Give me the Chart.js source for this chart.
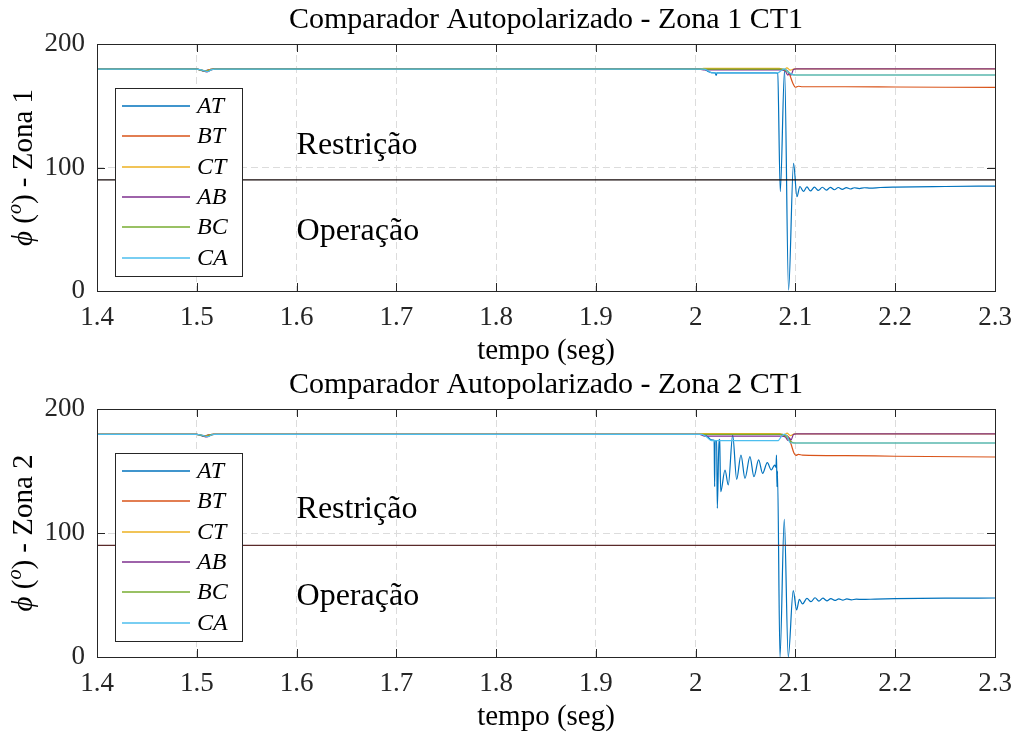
<!DOCTYPE html>
<html>
<head>
<meta charset="utf-8">
<script src="https://cdn.jsdelivr.net/npm/chart.js@4.4.1/dist/chart.umd.min.js"></script>
<style>
  html, body { margin: 0; padding: 0; background: #ffffff; }
  #wrap { position: relative; width: 1017px; height: 734px; }
  canvas { position: absolute; left: 0; }
  #zona1 { top: 0; }
  #zona2 { top: 367px; }
</style>
</head>
<body>
<div id="wrap">
  <canvas id="zona1" width="1017" height="367" style="width:1017px;height:367px"></canvas>
  <canvas id="zona2" width="1017" height="367" style="width:1017px;height:367px"></canvas>
</div>
<script>
// ---- data: [time (s), angle (deg)] ----
const seriesNames = ['AT', 'BT', 'CT', 'AB', 'BC', 'CA'];

const zona1AT = [
  [1.400,179.6],[1.500,179.6],[1.503,179.0],[1.507,178.0],[1.511,178.9],[1.515,179.6],
  [2.008,179.6],[2.012,178.0],[2.016,176.8],[2.0195,176.6],[2.0205,174.6],[2.0215,176.6],
  [2.050,176.7],[2.080,176.7],[2.0822,176.2],[2.0848,80.4],[2.0891,179.0],[2.0931,0.8],
  [2.0981,103.4],[2.1015,76.4],[2.1045,84.6],[2.108,80.6],[2.1115,84.3],[2.115,81.0],
  [2.119,84.1],[2.123,81.4],[2.127,84.0],[2.131,81.7],[2.135,83.9],[2.139,82.0],
  [2.143,83.8],[2.147,82.3],[2.151,83.7],[2.155,82.6],[2.159,83.6],[2.164,82.9],
  [2.169,83.6],[2.175,83.3],[2.185,83.8],[2.200,84.1],[2.250,84.6],[2.300,85.0]
];
const zona1BT = [
  [1.400,179.6],[1.500,179.6],[1.504,179.0],[1.508,178.3],[1.512,179.1],[1.516,179.6],
  [2.085,179.6],[2.089,179.2],[2.0925,178.0],[2.095,173.5],[2.0975,168.0],[2.100,165.0],
  [2.103,165.8],[2.107,165.4],[2.150,165.4],[2.200,165.2],[2.300,164.8]
];
const zona1CT = [
  [1.400,179.6],[1.500,179.6],[1.504,178.8],[1.509,177.9],[1.513,179.0],[1.516,179.6],
  [2.003,179.6],[2.008,180.2],[2.084,180.2],[2.088,178.6],[2.0915,180.6],[2.095,178.8],
  [2.099,179.9],[2.300,179.9]
];
const zona1AB = [
  [1.400,179.6],[1.500,179.6],[1.505,178.6],[1.510,177.4],[1.514,178.9],[1.517,179.6],
  [2.004,179.6],[2.009,179.0],[2.086,179.0],[2.090,177.8],[2.0925,174.8],[2.094,176.6],
  [2.0955,174.6],[2.098,179.4],[2.101,179.9],[2.300,179.9]
];
const zona1BC = [
  [1.400,179.6],[1.500,179.6],[1.505,178.8],[1.510,177.9],[1.514,179.1],[1.517,179.6],
  [2.087,179.6],[2.0905,178.4],[2.094,176.4],[2.097,175.2],[2.100,174.9],[2.300,174.9]
];
const zona1CA = [
  [1.400,179.6],[1.500,179.6],[1.506,178.7],[1.511,177.7],[1.515,179.2],[1.518,179.6],
  [2.008,179.6],[2.012,178.6],[2.016,176.6],[2.082,176.6],[2.086,178.6],[2.089,179.8],
  [2.092,178.0],[2.096,175.6],[2.100,174.9],[2.300,174.9]
];

const zona2AT = [
  [1.400,179.6],[1.500,179.6],[1.503,179.0],[1.507,178.0],[1.511,178.9],[1.515,179.6],
  [2.008,179.6],[2.012,177.6],[2.016,175.2],[2.0185,174.8],[2.0190,137.4],[2.0195,174.6],
  [2.0210,174.4],[2.0217,119.9],[2.0234,175.5],[2.0240,175.0],[2.0251,133.3],[2.0294,150.8],
  [2.0327,138.7],[2.0371,179.0],[2.0411,143.3],[2.0454,162.9],[2.0494,144.1],[2.0544,161.6],
  [2.0584,145.4],[2.0631,158.9],[2.0671,148.1],[2.0718,156.7],[2.0758,150.8],[2.0791,154.8],
  [2.0805,153.0],[2.0810,162.9],[2.0815,137.4],[2.0820,150.0],[2.0845,0.0],[2.0888,111.0],
  [2.0928,0.0],[2.0978,53.5],[2.1012,37.9],[2.1039,46.5],[2.1072,42.8],[2.1115,47.3],
  [2.1156,44.6],[2.1196,47.8],[2.1235,45.0],[2.1275,47.4],[2.1315,45.3],[2.1355,47.1],
  [2.1395,45.6],[2.1435,46.9],[2.1475,45.9],[2.1515,46.8],[2.156,46.1],[2.161,46.7],
  [2.167,46.4],[2.180,46.7],[2.200,47.0],[2.250,47.4],[2.300,47.6]
];
const zona2BT = [
  [1.400,179.6],[1.500,179.6],[1.504,179.0],[1.508,178.3],[1.512,179.1],[1.516,179.6],
  [2.086,179.6],[2.090,179.0],[2.093,177.5],[2.0955,172.0],[2.0985,164.5],[2.1005,162.6],
  [2.103,163.4],[2.107,162.8],[2.150,162.4],[2.200,161.9],[2.300,161.3]
];
const zona2CT = [
  [1.400,179.6],[1.500,179.6],[1.504,178.8],[1.509,177.9],[1.513,179.0],[1.516,179.6],
  [2.003,179.6],[2.008,180.2],[2.084,180.2],[2.088,178.4],[2.0915,180.6],[2.095,178.6],
  [2.099,179.9],[2.300,179.9]
];
const zona2AB = [
  [1.400,179.6],[1.500,179.6],[1.505,178.6],[1.510,177.4],[1.514,178.9],[1.517,179.6],
  [2.004,179.6],[2.009,178.2],[2.086,178.2],[2.090,177.4],[2.0925,174.6],[2.094,176.8],
  [2.0955,174.8],[2.098,179.4],[2.101,179.9],[2.300,179.9]
];
const zona2BC = [
  [1.400,179.6],[1.500,179.6],[1.505,178.8],[1.510,177.9],[1.514,179.1],[1.517,179.6],
  [2.087,179.6],[2.0905,178.0],[2.094,174.8],[2.097,173.0],[2.100,172.6],[2.300,172.6]
];
const zona2CA = [
  [1.400,179.6],[1.500,179.6],[1.506,178.7],[1.511,177.7],[1.515,179.2],[1.518,179.6],
  [2.006,179.6],[2.011,177.4],[2.016,174.5],[2.0826,174.5],[2.086,178.0],[2.089,179.8],
  [2.092,177.6],[2.0946,172.8],[2.100,172.6],[2.300,172.6]
];

// operating threshold of the comparator (deg)
const thresholdDeg = 90;
const thresholdTimes = [1.4, 2.3];

// axes
const xTickValues = [1.4, 1.5, 1.6, 1.7, 1.8, 1.9, 2.0, 2.1, 2.2, 2.3];
const xTickLabels = ['1.4', '1.5', '1.6', '1.7', '1.8', '1.9', '2', '2.1', '2.2', '2.3'];
const yTickValues = [0, 100, 200];
const yTickLabels = ['0', '100', '200'];

// ---- styling ----
const seriesColors = ['#0072BD', '#D95319', '#EDB120', '#7E2F8E', '#77AC30', '#4DBEEE'];
const SERIF = '"Liberation Serif", "Times New Roman", "DejaVu Serif", serif';
const AXIS_GRAY = '#262626';

function drawYTitle(ctx, cx, cy, zonaText) {
  const parts = [
    { t: '\u03D5', font: 'italic 29px ' + SERIF, dy: 0 },
    { t: ' (', font: '29px ' + SERIF, dy: 0 },
    { t: 'o', font: 'italic 20px ' + SERIF, dy: -11 },
    { t: ')', font: '29px ' + SERIF, dy: 0 },
    { t: ' - ' + zonaText, font: '29px ' + SERIF, dy: 0 }
  ];
  ctx.save();
  ctx.translate(cx, cy);
  ctx.rotate(-Math.PI / 2);
  ctx.textBaseline = 'alphabetic';
  ctx.textAlign = 'left';
  ctx.fillStyle = '#000';
  let total = 0;
  parts.forEach(p => { ctx.font = p.font; p.w = ctx.measureText(p.t).width; total += p.w; });
  let xx = -total / 2;
  parts.forEach(p => { ctx.font = p.font; ctx.fillText(p.t, xx, 10 + p.dy); xx += p.w; });
  ctx.restore();
}

function decorPlugin(opts) {
  return {
    id: 'decor',
    afterDatasetsDraw(chart) {
      const { ctx, chartArea: a, scales: { x, y } } = chart;
      ctx.save();

      // inward tick marks and axes box
      ctx.strokeStyle = AXIS_GRAY;
      ctx.lineWidth = 1;
      ctx.beginPath();
      xTickValues.forEach(v => {
        const px = Math.round(x.getPixelForValue(v)) + 0.5;
        ctx.moveTo(px, a.bottom); ctx.lineTo(px, a.bottom - 8);
        ctx.moveTo(px, a.top); ctx.lineTo(px, a.top + 8);
      });
      yTickValues.forEach(v => {
        const py = Math.round(y.getPixelForValue(v)) + 0.5;
        ctx.moveTo(a.left, py); ctx.lineTo(a.left + 8, py);
        ctx.moveTo(a.right, py); ctx.lineTo(a.right - 8, py);
      });
      ctx.stroke();
      ctx.strokeRect(Math.round(a.left) + 0.5, Math.round(a.top) + 0.5,
                     Math.round(a.right - a.left), Math.round(a.bottom - a.top));

      // region labels
      ctx.fillStyle = '#000';
      ctx.font = '32px ' + SERIF;
      ctx.textAlign = 'left';
      ctx.textBaseline = 'middle';
      opts.regions.forEach(r => {
        ctx.fillText(r.text, x.getPixelForValue(r.t), y.getPixelForValue(r.v));
      });

      // legend
      const lx = a.left + 18, ly = a.top + 44, lw = 127, lh = 188;
      ctx.fillStyle = '#fff';
      ctx.fillRect(lx, ly, lw, lh);
      ctx.strokeStyle = AXIS_GRAY;
      ctx.lineWidth = 1;
      ctx.strokeRect(Math.round(lx) + 0.5, Math.round(ly) + 0.5, lw, lh);
      ctx.font = 'italic 24px ' + SERIF;
      ctx.textBaseline = 'middle';
      seriesNames.forEach((name, i) => {
        const ey = Math.round(ly + 18 + i * 30.3);
        ctx.strokeStyle = seriesColors[i];
        ctx.lineWidth = 1.5;
        ctx.beginPath();
        ctx.moveTo(lx + 7, ey); ctx.lineTo(lx + 75, ey);
        ctx.stroke();
        ctx.fillStyle = '#000';
        ctx.fillText(name, lx + 82, ey + 1);
      });

      // title and axis titles
      const cx = (a.left + a.right) / 2;
      ctx.fillStyle = '#000';
      ctx.textAlign = 'center';
      ctx.textBaseline = 'middle';
      ctx.font = '30px ' + SERIF;
      ctx.fillText(opts.title, cx, a.top - 24);
      ctx.font = '29px ' + SERIF;
      ctx.fillText('tempo (seg)', cx, a.bottom + 60);
      drawYTitle(ctx, 22, (a.top + a.bottom) / 2, opts.zona);

      ctx.restore();
    }
  };
}

function buildChart(canvasId, series, opts) {
  const datasets = series.map((pts, i) => ({
    label: seriesNames[i],
    data: pts.map(([t, d]) => ({ x: t, y: d })),
    borderColor: seriesColors[i],
    borderWidth: 1.2,
    borderJoinStyle: 'round',
    cubicInterpolationMode: 'monotone',
    pointRadius: 0,
    order: seriesNames.length - i
  }));
  datasets.push({
    label: 'limiar',
    data: thresholdTimes.map(t => ({ x: t, y: thresholdDeg })),
    borderColor: opts.limitColor,
    borderWidth: 1.4,
    pointRadius: 0,
    order: 0
  });

  return new Chart(document.getElementById(canvasId), {
    type: 'line',
    data: { datasets },
    options: {
      responsive: false,
      animation: false,
      devicePixelRatio: 1,
      events: [],
      layout: { padding: { left: 0, right: 22, top: opts.top, bottom: 0 } },
      plugins: { legend: { display: false }, tooltip: { enabled: false }, title: { display: false } },
      scales: {
        x: {
          type: 'linear',
          min: 1.4, max: 2.3,
          afterBuildTicks: s => { s.ticks = xTickValues.map(v => ({ value: v })); },
          afterFit: s => { s.height = 367 - opts.bottom; s.paddingLeft = 0; s.paddingRight = 0; },
          ticks: {
            autoSkip: false, maxRotation: 0, minRotation: 0,
            padding: 11,
            color: AXIS_GRAY,
            font: { family: SERIF, size: 27 },
            callback: (v, i) => xTickLabels[i]
          },
          grid: { color: '#dcdcdc', lineWidth: 1, drawTicks: false },
          border: { display: false, dash: [7, 4] }
        },
        y: {
          type: 'linear',
          min: 0, max: 200,
          afterBuildTicks: s => { s.ticks = yTickValues.map(v => ({ value: v })); },
          afterFit: s => { s.width = 97; s.paddingTop = 0; s.paddingBottom = 0; },
          ticks: {
            padding: 12,
            color: AXIS_GRAY,
            font: { family: SERIF, size: 27 },
            callback: (v, i) => yTickLabels[i]
          },
          grid: { color: '#dcdcdc', lineWidth: 1, drawTicks: false },
          border: { display: false, dash: [7, 4] }
        }
      }
    },
    plugins: [decorPlugin(opts)]
  });
}

function drawAll() {
  buildChart('zona1', [zona1AT, zona1BT, zona1CT, zona1AB, zona1BC, zona1CA], {
    top: 44, bottom: 291,
    limitColor: '#120606',
    title: 'Comparador Autopolarizado - Zona 1 CT1',
    zona: 'Zona 1',
    regions: [{ text: 'Restrição', t: 1.6, v: 118 }, { text: 'Operação', t: 1.6, v: 48 }]
  });

  buildChart('zona2', [zona2AT, zona2BT, zona2CT, zona2AB, zona2BC, zona2CA], {
    top: 42, bottom: 290,
    limitColor: '#5a2a2a',
    title: 'Comparador Autopolarizado - Zona 2 CT1',
    zona: 'Zona 2',
    regions: [{ text: 'Restrição', t: 1.6, v: 119 }, { text: 'Operação', t: 1.6, v: 48.5 }]
  });
}

const fontLoads = document.fonts
  ? Promise.all([
      document.fonts.load('27px "Liberation Serif"'),
      document.fonts.load('italic 24px "Liberation Serif"')
    ]).catch(() => null)
  : Promise.resolve();
fontLoads.then(drawAll);
</script>
</body>
</html>
